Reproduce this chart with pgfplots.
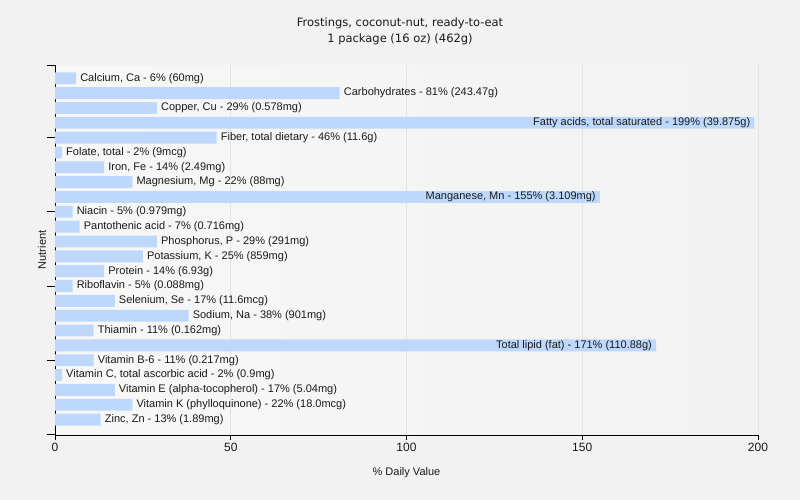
\documentclass[border=0pt]{standalone}
\usepackage{fontspec}
\setmainfont{Liberation Sans}
\newfontfamily\titlefont{DejaVu Sans}
\usepackage{pgfplots}
\pgfplotsset{compat=1.18}
\definecolor{barblue}{HTML}{BDD8FB}
\definecolor{pagebg}{HTML}{F2F2F2}
\definecolor{gridgray}{HTML}{E2E2E2}
\definecolor{txt}{HTML}{1A1A1A}

\begin{document}
\begin{tikzpicture}
\fill[pagebg] (0,0) rectangle (800bp,500bp);
\node[font=\titlefont\fontsize{11.5bp}{13bp}\selectfont, text=txt] at (400bp,477bp) {Frostings, coconut-nut, ready-to-eat};
\node[font=\titlefont\fontsize{11.5bp}{13bp}\selectfont, text=txt] at (400bp,461bp) {1 package (16 oz) (462g)};
\begin{axis}[
    at={(55bp,65.3bp)}, anchor=south west,
    scale only axis, width=703bp, height=369.5bp,
    xbar, bar width=0.8, bar shift=0pt,
    y dir=reverse,
    xmin=0, xmax=200, ymin=-0.88, ymax=24.02,
    xtick={0,50,100,150,200},
    ytick=\empty,
    extra y ticks={-0.88,4,9,14,19,24.02}, extra y tick labels={},
    extra y tick style={major tick length=8bp},
    axis x line*=bottom, axis y line*=left,
    axis line style={-, black},
    tick align=outside, major tick length=5bp,
    tick style={black, line width=0.8pt},
    xmajorgrids, grid style={gridgray, line width=0.8pt},
    axis background/.style={left color=pagebg!60!white, middle color=white, right color=pagebg},
    clip=false,
    tick label style={font=\fontsize{12bp}{14bp}\selectfont, text=txt},
    /pgf/number format/assume math mode=true,
    xlabel={\% Daily Value},
    xlabel style={font=\fontsize{11bp}{13bp}\selectfont, text=txt, at={(rel axis cs:0.5,0)}, anchor=center, yshift=-38bp},
    ylabel={Nutrient},
    ylabel style={font=\fontsize{11bp}{13bp}\selectfont, text=txt, at={(rel axis cs:0,0.5)}, anchor=center, rotate=0, yshift=13bp},
    point meta=explicit symbolic,
    nodes near coords,
    every node near coord/.append style={font=\fontsize{11bp}{13bp}\selectfont, text=txt, inner sep=0pt},
]
% labels placed after the bar end
\addplot[fill=barblue, draw=none,
    nodes near coords style={anchor=west, xshift=4bp}] coordinates {
    (6,0) [Calcium, Ca - 6\% (60mg)]
    (81,1) [Carbohydrates - 81\% (243.47g)]
    (29,2) [Copper, Cu - 29\% (0.578mg)]
    (46,4) [Fiber, total dietary - 46\% (11.6g)]
    (2,5) [Folate, total - 2\% (9mcg)]
    (14,6) [Iron, Fe - 14\% (2.49mg)]
    (22,7) [Magnesium, Mg - 22\% (88mg)]
    (5,9) [Niacin - 5\% (0.979mg)]
    (7,10) [Pantothenic acid - 7\% (0.716mg)]
    (29,11) [Phosphorus, P - 29\% (291mg)]
    (25,12) [Potassium, K - 25\% (859mg)]
    (14,13) [Protein - 14\% (6.93g)]
    (5,14) [Riboflavin - 5\% (0.088mg)]
    (17,15) [Selenium, Se - 17\% (11.6mcg)]
    (38,16) [Sodium, Na - 38\% (901mg)]
    (11,17) [Thiamin - 11\% (0.162mg)]
    (11,19) [Vitamin B-6 - 11\% (0.217mg)]
    (2,20) [Vitamin C, total ascorbic acid - 2\% (0.9mg)]
    (17,21) [Vitamin E (alpha-tocopherol) - 17\% (5.04mg)]
    (22,22) [Vitamin K (phylloquinone) - 22\% (18.0mcg)]
    (13,23) [Zinc, Zn - 13\% (1.89mg)]
};
% long bars: labels inside, right aligned
\addplot[fill=barblue, draw=none,
    nodes near coords style={anchor=east, xshift=-4bp}] coordinates {
    (199,3) [Fatty acids, total saturated - 199\% (39.875g)]
    (155,8) [Manganese, Mn - 155\% (3.109mg)]
    (171,18) [Total lipid (fat) - 171\% (110.88g)]
};
\end{axis}
\end{tikzpicture}
\end{document}
